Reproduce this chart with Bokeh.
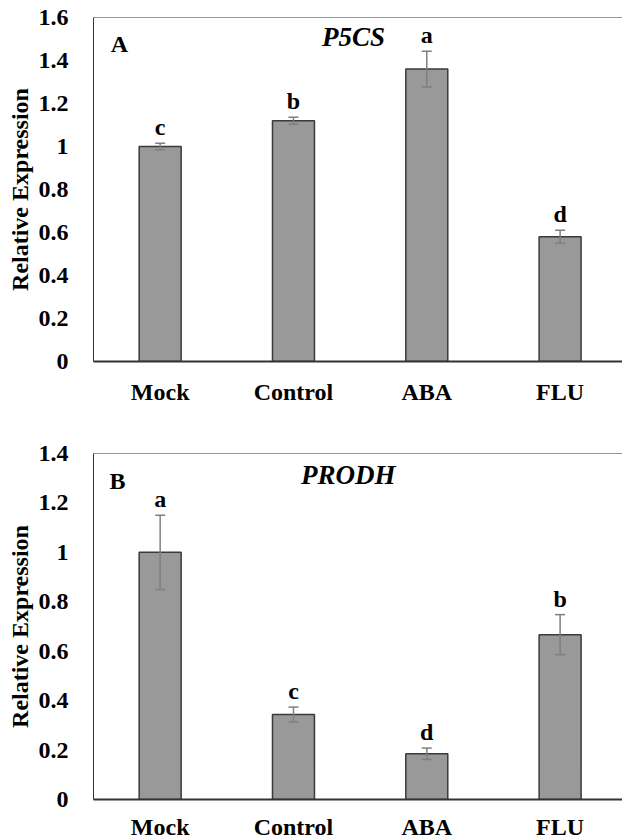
from bokeh.plotting import figure
from bokeh.layouts import column
from bokeh.models import (ColumnDataSource, Whisker, TeeHead, Label, Span, FixedTicker,
                          NumeralTickFormatter, CustomJSTickFormatter, Range1d)
from bokeh.embed import file_html
from bokeh.resources import INLINE
from bokeh.core.properties import value

categories = ["Mock", "Control", "ABA", "FLU"]

p5cs_values = [1.00, 1.12, 1.36, 0.58]
p5cs_errors = [0.015, 0.016, 0.083, 0.030]
p5cs_letters = ["c", "b", "a", "d"]
p5cs_ticks = [0, 0.2, 0.4, 0.6, 0.8, 1.0, 1.2, 1.4, 1.6]

prodh_values = [1.00, 0.344, 0.185, 0.667]
prodh_errors = [0.150, 0.030, 0.023, 0.081]
prodh_letters = ["a", "c", "d", "b"]
prodh_ticks = [0, 0.2, 0.4, 0.6, 0.8, 1.0, 1.2, 1.4]

FONT = "Liberation Serif"
BAR_FILL = "#999999"
BAR_LINE = "#3a3a3a"
ERR_COLOR = "#7f7f7f"


def make_panel(values, errors, letters, ticks, gene, panel, frame_h,
               border_top, border_bottom, label_standoff, gene_xy, panel_xy):
    n = len(categories)
    xs = [i + 0.5 for i in range(n)]
    src = ColumnDataSource(dict(
        x=xs, top=values,
        upper=[v + e for v, e in zip(values, errors)],
        lower=[v - e for v, e in zip(values, errors)],
        letter=letters,
    ))
    p = figure(frame_width=529, frame_height=frame_h,
               x_range=Range1d(0, 3.968), y_range=Range1d(0, ticks[-1]),
               min_border_left=93, min_border_right=0,
               min_border_top=border_top, min_border_bottom=border_bottom,
               output_backend="svg", toolbar_location=None,
               background_fill_color="white", border_fill_color="white")
    p.outline_line_color = None
    p.grid.visible = False

    p.vbar(x="x", top="top", width=0.315, bottom=0, source=src,
           fill_color=BAR_FILL, line_color=BAR_LINE, line_width=1.5)

    wh = Whisker(source=src, base="x", upper="upper", lower="lower",
                 line_color=ERR_COLOR, line_width=1.5, level="overlay",
                 upper_head=TeeHead(size=10, line_color=ERR_COLOR, line_width=1.5),
                 lower_head=TeeHead(size=10, line_color=ERR_COLOR, line_width=1.5))
    p.add_layout(wh)

    p.text(x="x", y="upper", text="letter", source=src, text_align="center",
           text_baseline="alphabetic", y_offset=-16,
           text_font=value(FONT), text_font_size="24px", text_font_style="bold",
           text_color="black")

    # top border
    p.add_layout(Span(location=ticks[-1], dimension="width",
                      line_color="#333333", line_width=1.2))

    p.add_layout(Label(x=gene_xy[0], y=gene_xy[1], text=gene, text_align="center",
                       text_baseline="middle", text_font=FONT, text_font_size="27px",
                       text_font_style="bold italic", text_color="black"))
    p.add_layout(Label(x=panel_xy[0], y=panel_xy[1], text=panel, text_align="center",
                       text_baseline="middle", text_font=FONT, text_font_size="24px",
                       text_font_style="bold", text_color="black"))

    # x axis
    xa = p.xaxis[0]
    xa.ticker = FixedTicker(ticks=xs)
    xa.formatter = CustomJSTickFormatter(args=dict(names=categories),
                                         code="return names[Math.round(tick - 0.5)] || '';")
    xa.axis_line_color = "#333333"
    xa.axis_line_width = 2
    xa.major_tick_line_color = None
    xa.minor_tick_line_color = None
    xa.major_label_standoff = label_standoff
    xa.major_label_text_font = FONT
    xa.major_label_text_font_size = "24px"
    xa.major_label_text_font_style = "bold"
    xa.major_label_text_color = "black"

    # y axis
    ya = p.yaxis[0]
    ya.ticker = FixedTicker(ticks=ticks)
    ya.formatter = NumeralTickFormatter(format="0.[0]")
    ya.axis_line_color = "#333333"
    ya.axis_line_width = 1
    ya.major_tick_line_color = None
    ya.minor_tick_line_color = None
    ya.major_label_standoff = 19
    ya.major_label_text_font = FONT
    ya.major_label_text_font_size = "24px"
    ya.major_label_text_font_style = "bold"
    ya.major_label_text_color = "black"
    ya.axis_label = "Relative Expression"
    ya.axis_label_standoff = 3
    ya.axis_label_text_font = FONT
    ya.axis_label_text_font_size = "24px"
    ya.axis_label_text_font_style = "bold"
    ya.axis_label_text_color = "black"
    return p


top = make_panel(p5cs_values, p5cs_errors, p5cs_letters, p5cs_ticks, "P5CS", "A",
                 frame_h=344, border_top=17, border_bottom=60, label_standoff=11,
                 gene_xy=(1.95, 1.51), panel_xy=(0.195, 1.475))
bottom = make_panel(prodh_values, prodh_errors, prodh_letters, prodh_ticks, "PRODH", "B",
                    frame_h=346, border_top=32, border_bottom=39, label_standoff=8,
                    gene_xy=(1.91, 1.315), panel_xy=(0.18, 1.29))

layout = column(top, bottom, spacing=0)
open("out.html", "w").write(file_html(layout, INLINE))
